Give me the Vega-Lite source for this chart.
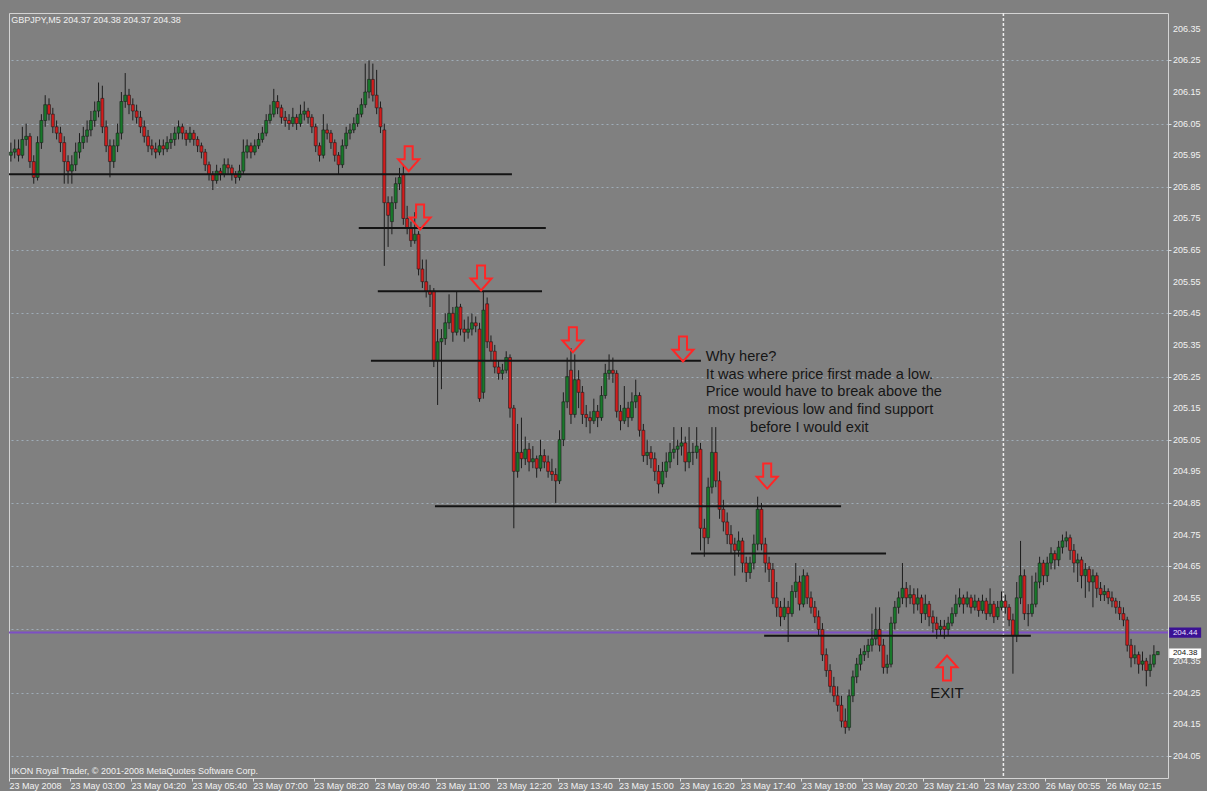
{
"$schema": "https://vega.github.io/schema/vega-lite/v6.json",
"width": 1159,
"height": 765,
"padding": {"left": 8, "top": 12, "right": 5, "bottom": 5},
"background": "#808080",
"config": {"view": {"fill": "#808080", "stroke": "#d4d4d4", "strokeWidth": 1}, "font": "Liberation Sans", "axis": {"labelOverlap": false}, "scale": {"continuousPadding": 0}},
"datasets": {
"candles": [
{"i":0,"o":205.95,"h":205.99,"l":205.93,"c":205.96},{"i":1,"o":205.96,"h":206.00,"l":205.94,"c":205.97},{"i":2,"o":205.97,"h":206.00,"l":205.93,"c":205.95},{"i":3,"o":205.95,"h":206.04,"l":205.94,"c":206.00},{"i":4,"o":206.00,"h":206.05,"l":205.98,"c":206.01},
{"i":5,"o":206.01,"h":206.02,"l":205.91,"c":205.93},{"i":6,"o":205.93,"h":205.95,"l":205.86,"c":205.88},{"i":7,"o":205.88,"h":206.01,"l":205.87,"c":205.99},{"i":8,"o":205.99,"h":206.08,"l":205.97,"c":206.06},{"i":9,"o":206.06,"h":206.14,"l":206.04,"c":206.11},
{"i":10,"o":206.11,"h":206.13,"l":206.06,"c":206.08},{"i":11,"o":206.08,"h":206.10,"l":206.02,"c":206.04},{"i":12,"o":206.04,"h":206.06,"l":206.00,"c":206.02},{"i":13,"o":206.02,"h":206.04,"l":205.96,"c":205.99},{"i":14,"o":205.99,"h":206.01,"l":205.86,"c":205.93},
{"i":15,"o":205.93,"h":205.95,"l":205.86,"c":205.90},{"i":16,"o":205.90,"h":205.95,"l":205.86,"c":205.92},{"i":17,"o":205.92,"h":205.99,"l":205.90,"c":205.96},{"i":18,"o":205.96,"h":206.02,"l":205.94,"c":205.99},{"i":19,"o":205.99,"h":206.04,"l":205.97,"c":206.01},
{"i":20,"o":206.01,"h":206.06,"l":205.99,"c":206.03},{"i":21,"o":206.03,"h":206.09,"l":206.01,"c":206.06},{"i":22,"o":206.06,"h":206.12,"l":206.04,"c":206.09},{"i":23,"o":206.09,"h":206.18,"l":206.07,"c":206.12},{"i":24,"o":206.13,"h":206.17,"l":206.02,"c":206.04},
{"i":25,"o":206.04,"h":206.06,"l":205.96,"c":205.98},{"i":26,"o":205.98,"h":206.00,"l":205.88,"c":205.93},{"i":27,"o":205.93,"h":206.00,"l":205.91,"c":205.98},{"i":28,"o":205.98,"h":206.05,"l":205.96,"c":206.02},{"i":29,"o":206.02,"h":206.15,"l":206.00,"c":206.12},
{"i":30,"o":206.12,"h":206.21,"l":206.10,"c":206.14},{"i":31,"o":206.14,"h":206.16,"l":206.08,"c":206.11},{"i":32,"o":206.11,"h":206.13,"l":206.06,"c":206.09},{"i":33,"o":206.09,"h":206.11,"l":206.05,"c":206.07},{"i":34,"o":206.07,"h":206.09,"l":206.02,"c":206.04},
{"i":35,"o":206.04,"h":206.06,"l":205.99,"c":206.01},{"i":36,"o":206.01,"h":206.03,"l":205.96,"c":205.98},{"i":37,"o":205.98,"h":206.00,"l":205.95,"c":205.97},{"i":38,"o":205.97,"h":205.99,"l":205.94,"c":205.96},{"i":39,"o":205.96,"h":206.00,"l":205.95,"c":205.98},
{"i":40,"o":205.98,"h":206.00,"l":205.95,"c":205.97},{"i":41,"o":205.97,"h":206.01,"l":205.96,"c":205.99},{"i":42,"o":205.99,"h":206.02,"l":205.97,"c":206.00},{"i":43,"o":206.00,"h":206.04,"l":205.98,"c":206.02},{"i":44,"o":206.02,"h":206.06,"l":206.00,"c":206.04},
{"i":45,"o":206.04,"h":206.05,"l":206.00,"c":206.02},{"i":46,"o":206.02,"h":206.03,"l":205.98,"c":206.00},{"i":47,"o":206.00,"h":206.04,"l":205.99,"c":206.02},{"i":48,"o":206.02,"h":206.03,"l":205.98,"c":206.00},{"i":49,"o":206.00,"h":206.01,"l":205.96,"c":205.98},
{"i":50,"o":205.98,"h":205.99,"l":205.94,"c":205.96},{"i":51,"o":205.96,"h":205.97,"l":205.90,"c":205.92},{"i":52,"o":205.92,"h":205.93,"l":205.87,"c":205.89},{"i":53,"o":205.89,"h":205.90,"l":205.84,"c":205.87},{"i":54,"o":205.87,"h":205.92,"l":205.86,"c":205.90},
{"i":55,"o":205.90,"h":205.91,"l":205.87,"c":205.89},{"i":56,"o":205.89,"h":205.94,"l":205.88,"c":205.92},{"i":57,"o":205.92,"h":205.94,"l":205.89,"c":205.91},{"i":58,"o":205.91,"h":205.92,"l":205.87,"c":205.89},{"i":59,"o":205.89,"h":205.90,"l":205.86,"c":205.88},
{"i":60,"o":205.88,"h":205.92,"l":205.87,"c":205.90},{"i":61,"o":205.90,"h":206.00,"l":205.89,"c":205.96},{"i":62,"o":205.96,"h":206.00,"l":205.94,"c":205.98},{"i":63,"o":205.98,"h":205.99,"l":205.94,"c":205.96},{"i":64,"o":205.96,"h":206.00,"l":205.95,"c":205.98},
{"i":65,"o":205.98,"h":206.02,"l":205.97,"c":206.00},{"i":66,"o":206.00,"h":206.04,"l":205.99,"c":206.02},{"i":67,"o":206.02,"h":206.08,"l":206.01,"c":206.06},{"i":68,"o":206.06,"h":206.11,"l":206.05,"c":206.08},{"i":69,"o":206.08,"h":206.16,"l":206.07,"c":206.12},
{"i":70,"o":206.12,"h":206.14,"l":206.08,"c":206.10},{"i":71,"o":206.10,"h":206.11,"l":206.05,"c":206.07},{"i":72,"o":206.07,"h":206.09,"l":206.04,"c":206.06},{"i":73,"o":206.06,"h":206.08,"l":206.03,"c":206.05},{"i":74,"o":206.05,"h":206.10,"l":206.04,"c":206.07},
{"i":75,"o":206.07,"h":206.08,"l":206.03,"c":206.05},{"i":76,"o":206.05,"h":206.11,"l":206.04,"c":206.08},{"i":77,"o":206.08,"h":206.12,"l":206.06,"c":206.09},{"i":78,"o":206.09,"h":206.10,"l":206.05,"c":206.07},{"i":79,"o":206.07,"h":206.08,"l":206.02,"c":206.04},
{"i":80,"o":206.04,"h":206.05,"l":205.96,"c":205.98},{"i":81,"o":205.98,"h":205.99,"l":205.93,"c":205.95},{"i":82,"o":205.95,"h":206.08,"l":205.94,"c":206.03},{"i":83,"o":206.03,"h":206.05,"l":206.00,"c":206.02},{"i":84,"o":206.02,"h":206.03,"l":205.97,"c":205.99},
{"i":85,"o":205.99,"h":206.00,"l":205.93,"c":205.95},{"i":86,"o":205.95,"h":205.96,"l":205.89,"c":205.92},{"i":87,"o":205.92,"h":206.00,"l":205.91,"c":205.98},{"i":88,"o":205.98,"h":206.04,"l":205.97,"c":206.02},{"i":89,"o":206.02,"h":206.05,"l":206.00,"c":206.03},
{"i":90,"o":206.03,"h":206.07,"l":206.02,"c":206.05},{"i":91,"o":206.05,"h":206.10,"l":206.04,"c":206.08},{"i":92,"o":206.08,"h":206.13,"l":206.07,"c":206.11},{"i":93,"o":206.11,"h":206.24,"l":206.10,"c":206.15},{"i":94,"o":206.15,"h":206.25,"l":206.13,"c":206.19},
{"i":95,"o":206.19,"h":206.24,"l":206.12,"c":206.14},{"i":96,"o":206.14,"h":206.22,"l":206.08,"c":206.10},{"i":97,"o":206.10,"h":206.12,"l":206.02,"c":206.04},{"i":98,"o":206.03,"h":206.05,"l":205.60,"c":205.80},{"i":99,"o":205.80,"h":205.82,"l":205.66,"c":205.76},
{"i":100,"o":205.74,"h":205.82,"l":205.70,"c":205.80},{"i":101,"o":205.80,"h":205.88,"l":205.78,"c":205.86},{"i":102,"o":205.86,"h":205.91,"l":205.84,"c":205.88},{"i":103,"o":205.89,"h":205.92,"l":205.73,"c":205.75},{"i":104,"o":205.75,"h":205.79,"l":205.70,"c":205.72},
{"i":105,"o":205.72,"h":205.74,"l":205.66,"c":205.68},{"i":106,"o":205.68,"h":205.77,"l":205.67,"c":205.70},{"i":107,"o":205.70,"h":205.71,"l":205.57,"c":205.59},{"i":108,"o":205.59,"h":205.62,"l":205.53,"c":205.55},{"i":109,"o":205.55,"h":205.62,"l":205.50,"c":205.52},
{"i":110,"o":205.52,"h":205.54,"l":205.47,"c":205.51},{"i":111,"o":205.52,"h":205.53,"l":205.28,"c":205.30},{"i":112,"o":205.30,"h":205.40,"l":205.16,"c":205.36},{"i":113,"o":205.36,"h":205.40,"l":205.21,"c":205.37},{"i":114,"o":205.37,"h":205.45,"l":205.35,"c":205.42},
{"i":115,"o":205.42,"h":205.51,"l":205.40,"c":205.45},{"i":116,"o":205.45,"h":205.47,"l":205.36,"c":205.39},{"i":117,"o":205.39,"h":205.52,"l":205.38,"c":205.47},{"i":118,"o":205.47,"h":205.48,"l":205.38,"c":205.40},{"i":119,"o":205.40,"h":205.43,"l":205.36,"c":205.39},
{"i":120,"o":205.39,"h":205.44,"l":205.37,"c":205.40},{"i":121,"o":205.40,"h":205.45,"l":205.38,"c":205.42},{"i":122,"o":205.42,"h":205.44,"l":205.39,"c":205.41},{"i":123,"o":205.40,"h":205.42,"l":205.17,"c":205.18},{"i":124,"o":205.20,"h":205.52,"l":205.18,"c":205.46},
{"i":125,"o":205.48,"h":205.50,"l":205.34,"c":205.36},{"i":126,"o":205.36,"h":205.38,"l":205.30,"c":205.33},{"i":127,"o":205.33,"h":205.35,"l":205.26,"c":205.28},{"i":128,"o":205.28,"h":205.30,"l":205.24,"c":205.26},{"i":129,"o":205.26,"h":205.29,"l":205.24,"c":205.27},
{"i":130,"o":205.27,"h":205.33,"l":205.26,"c":205.31},{"i":131,"o":205.31,"h":205.32,"l":205.12,"c":205.15},{"i":132,"o":205.15,"h":205.16,"l":204.77,"c":204.95},{"i":133,"o":204.95,"h":205.10,"l":204.93,"c":205.01},{"i":134,"o":205.01,"h":205.12,"l":204.96,"c":204.99},
{"i":135,"o":204.99,"h":205.06,"l":204.97,"c":205.02},{"i":136,"o":205.02,"h":205.04,"l":204.95,"c":204.98},{"i":137,"o":204.98,"h":205.03,"l":204.96,"c":204.99},{"i":138,"o":204.99,"h":205.00,"l":204.93,"c":204.96},{"i":139,"o":204.96,"h":205.05,"l":204.95,"c":205.00},
{"i":140,"o":205.00,"h":205.02,"l":204.96,"c":204.98},{"i":141,"o":204.98,"h":205.00,"l":204.93,"c":204.95},{"i":142,"o":204.95,"h":204.99,"l":204.92,"c":204.94},{"i":143,"o":204.94,"h":204.96,"l":204.85,"c":204.92},{"i":144,"o":204.92,"h":205.08,"l":204.91,"c":205.05},
{"i":145,"o":205.05,"h":205.20,"l":205.03,"c":205.17},{"i":146,"o":205.17,"h":205.31,"l":205.15,"c":205.25},{"i":147,"o":205.27,"h":205.34,"l":205.10,"c":205.13},{"i":148,"o":205.13,"h":205.32,"l":205.12,"c":205.24},{"i":149,"o":205.24,"h":205.27,"l":205.15,"c":205.20},
{"i":150,"o":205.20,"h":205.22,"l":205.10,"c":205.13},{"i":151,"o":205.13,"h":205.16,"l":205.09,"c":205.12},{"i":152,"o":205.12,"h":205.14,"l":205.07,"c":205.11},{"i":153,"o":205.11,"h":205.18,"l":205.10,"c":205.14},{"i":154,"o":205.14,"h":205.16,"l":205.09,"c":205.12},
{"i":155,"o":205.12,"h":205.22,"l":205.11,"c":205.19},{"i":156,"o":205.19,"h":205.29,"l":205.18,"c":205.26},{"i":157,"o":205.26,"h":205.32,"l":205.24,"c":205.27},{"i":158,"o":205.27,"h":205.31,"l":205.23,"c":205.26},{"i":159,"o":205.26,"h":205.27,"l":205.12,"c":205.14},
{"i":160,"o":205.14,"h":205.16,"l":205.08,"c":205.11},{"i":161,"o":205.11,"h":205.22,"l":205.10,"c":205.15},{"i":162,"o":205.15,"h":205.17,"l":205.09,"c":205.12},{"i":163,"o":205.12,"h":205.20,"l":205.11,"c":205.17},{"i":164,"o":205.17,"h":205.24,"l":205.15,"c":205.19},
{"i":165,"o":205.19,"h":205.20,"l":205.06,"c":205.08},{"i":166,"o":205.08,"h":205.10,"l":204.98,"c":205.00},{"i":167,"o":205.00,"h":205.05,"l":204.97,"c":205.01},{"i":168,"o":205.01,"h":205.03,"l":204.96,"c":204.99},{"i":169,"o":204.99,"h":205.01,"l":204.92,"c":204.95},
{"i":170,"o":204.95,"h":204.97,"l":204.88,"c":204.91},{"i":171,"o":204.91,"h":204.98,"l":204.90,"c":204.95},{"i":172,"o":204.95,"h":205.01,"l":204.93,"c":204.98},{"i":173,"o":204.98,"h":205.04,"l":204.96,"c":205.01},{"i":174,"o":205.01,"h":205.09,"l":204.99,"c":205.02},
{"i":175,"o":205.02,"h":205.05,"l":204.97,"c":205.03},{"i":176,"o":205.03,"h":205.09,"l":205.00,"c":205.04},{"i":177,"o":205.04,"h":205.06,"l":204.95,"c":204.98},{"i":178,"o":204.98,"h":205.09,"l":204.96,"c":205.01},{"i":179,"o":205.01,"h":205.04,"l":204.97,"c":205.01},
{"i":180,"o":205.01,"h":205.09,"l":204.99,"c":205.03},{"i":181,"o":205.02,"h":205.04,"l":204.70,"c":204.77},{"i":182,"o":204.77,"h":204.80,"l":204.68,"c":204.74},{"i":183,"o":204.74,"h":204.93,"l":204.72,"c":204.90},{"i":184,"o":204.90,"h":205.09,"l":204.88,"c":205.01},
{"i":185,"o":205.01,"h":205.09,"l":204.90,"c":204.92},{"i":186,"o":204.92,"h":204.95,"l":204.80,"c":204.83},{"i":187,"o":204.83,"h":204.86,"l":204.76,"c":204.79},{"i":188,"o":204.79,"h":204.82,"l":204.72,"c":204.75},{"i":189,"o":204.75,"h":204.78,"l":204.69,"c":204.72},
{"i":190,"o":204.72,"h":204.74,"l":204.62,"c":204.70},{"i":191,"o":204.70,"h":204.76,"l":204.68,"c":204.73},{"i":192,"o":204.73,"h":204.74,"l":204.63,"c":204.66},{"i":193,"o":204.66,"h":204.68,"l":204.60,"c":204.63},{"i":194,"o":204.63,"h":204.68,"l":204.61,"c":204.66},
{"i":195,"o":204.66,"h":204.75,"l":204.64,"c":204.72},{"i":196,"o":204.72,"h":204.87,"l":204.70,"c":204.83},{"i":197,"o":204.83,"h":204.85,"l":204.70,"c":204.72},{"i":198,"o":204.72,"h":204.74,"l":204.63,"c":204.66},{"i":199,"o":204.66,"h":204.68,"l":204.60,"c":204.64},
{"i":200,"o":204.64,"h":204.66,"l":204.53,"c":204.55},{"i":201,"o":204.55,"h":204.60,"l":204.49,"c":204.52},{"i":202,"o":204.52,"h":204.54,"l":204.46,"c":204.49},{"i":203,"o":204.49,"h":204.55,"l":204.48,"c":204.52},{"i":204,"o":204.52,"h":204.54,"l":204.41,"c":204.50},
{"i":205,"o":204.50,"h":204.59,"l":204.49,"c":204.57},{"i":206,"o":204.57,"h":204.66,"l":204.55,"c":204.60},{"i":207,"o":204.60,"h":204.62,"l":204.51,"c":204.53},{"i":208,"o":204.53,"h":204.64,"l":204.52,"c":204.62},{"i":209,"o":204.62,"h":204.63,"l":204.53,"c":204.55},
{"i":210,"o":204.55,"h":204.57,"l":204.50,"c":204.52},{"i":211,"o":204.52,"h":204.54,"l":204.47,"c":204.49},{"i":212,"o":204.49,"h":204.51,"l":204.43,"c":204.45},{"i":213,"o":204.45,"h":204.47,"l":204.35,"c":204.37},{"i":214,"o":204.37,"h":204.39,"l":204.30,"c":204.32},
{"i":215,"o":204.32,"h":204.34,"l":204.25,"c":204.27},{"i":216,"o":204.27,"h":204.30,"l":204.22,"c":204.24},{"i":217,"o":204.24,"h":204.27,"l":204.19,"c":204.21},{"i":218,"o":204.21,"h":204.24,"l":204.14,"c":204.16},{"i":219,"o":204.16,"h":204.20,"l":204.12,"c":204.14},
{"i":220,"o":204.14,"h":204.26,"l":204.13,"c":204.24},{"i":221,"o":204.24,"h":204.32,"l":204.22,"c":204.30},{"i":222,"o":204.30,"h":204.36,"l":204.28,"c":204.34},{"i":223,"o":204.34,"h":204.39,"l":204.32,"c":204.37},{"i":224,"o":204.37,"h":204.40,"l":204.35,"c":204.38},
{"i":225,"o":204.38,"h":204.42,"l":204.36,"c":204.40},{"i":226,"o":204.40,"h":204.50,"l":204.38,"c":204.42},{"i":227,"o":204.42,"h":204.52,"l":204.40,"c":204.45},{"i":228,"o":204.45,"h":204.52,"l":204.38,"c":204.40},{"i":229,"o":204.40,"h":204.42,"l":204.31,"c":204.33},
{"i":230,"o":204.33,"h":204.37,"l":204.31,"c":204.34},{"i":231,"o":204.34,"h":204.49,"l":204.33,"c":204.47},{"i":232,"o":204.47,"h":204.54,"l":204.45,"c":204.52},{"i":233,"o":204.52,"h":204.57,"l":204.50,"c":204.55},{"i":234,"o":204.55,"h":204.66,"l":204.53,"c":204.58},
{"i":235,"o":204.58,"h":204.60,"l":204.52,"c":204.55},{"i":236,"o":204.55,"h":204.59,"l":204.53,"c":204.56},{"i":237,"o":204.56,"h":204.58,"l":204.50,"c":204.53},{"i":238,"o":204.53,"h":204.58,"l":204.51,"c":204.55},{"i":239,"o":204.55,"h":204.56,"l":204.47,"c":204.50},
{"i":240,"o":204.50,"h":204.56,"l":204.48,"c":204.53},{"i":241,"o":204.53,"h":204.54,"l":204.46,"c":204.49},{"i":242,"o":204.49,"h":204.51,"l":204.44,"c":204.47},{"i":243,"o":204.47,"h":204.49,"l":204.42,"c":204.45},{"i":244,"o":204.45,"h":204.48,"l":204.43,"c":204.46},
{"i":245,"o":204.46,"h":204.48,"l":204.42,"c":204.45},{"i":246,"o":204.45,"h":204.49,"l":204.43,"c":204.47},{"i":247,"o":204.47,"h":204.52,"l":204.46,"c":204.50},{"i":248,"o":204.50,"h":204.56,"l":204.49,"c":204.53},{"i":249,"o":204.53,"h":204.58,"l":204.52,"c":204.55},
{"i":250,"o":204.55,"h":204.56,"l":204.50,"c":204.53},{"i":251,"o":204.53,"h":204.57,"l":204.52,"c":204.55},{"i":252,"o":204.55,"h":204.56,"l":204.50,"c":204.52},{"i":253,"o":204.52,"h":204.56,"l":204.51,"c":204.54},{"i":254,"o":204.54,"h":204.55,"l":204.49,"c":204.51},
{"i":255,"o":204.51,"h":204.56,"l":204.50,"c":204.54},{"i":256,"o":204.54,"h":204.55,"l":204.48,"c":204.50},{"i":257,"o":204.50,"h":204.58,"l":204.49,"c":204.53},{"i":258,"o":204.53,"h":204.54,"l":204.47,"c":204.49},{"i":259,"o":204.49,"h":204.54,"l":204.48,"c":204.52},
{"i":260,"o":204.52,"h":204.57,"l":204.51,"c":204.54},{"i":261,"o":204.54,"h":204.56,"l":204.50,"c":204.52},{"i":262,"o":204.52,"h":204.53,"l":204.46,"c":204.48},{"i":263,"o":204.48,"h":204.50,"l":204.31,"c":204.43},{"i":264,"o":204.43,"h":204.60,"l":204.41,"c":204.55},
{"i":265,"o":204.55,"h":204.73,"l":204.53,"c":204.62},{"i":266,"o":204.62,"h":204.64,"l":204.48,"c":204.50},{"i":267,"o":204.50,"h":204.53,"l":204.46,"c":204.50},{"i":268,"o":204.50,"h":204.62,"l":204.49,"c":204.53},{"i":269,"o":204.53,"h":204.63,"l":204.52,"c":204.60},
{"i":270,"o":204.60,"h":204.68,"l":204.58,"c":204.66},{"i":271,"o":204.66,"h":204.67,"l":204.59,"c":204.62},{"i":272,"o":204.62,"h":204.68,"l":204.60,"c":204.66},{"i":273,"o":204.66,"h":204.71,"l":204.64,"c":204.69},{"i":274,"o":204.69,"h":204.70,"l":204.64,"c":204.67},
{"i":275,"o":204.67,"h":204.73,"l":204.65,"c":204.71},{"i":276,"o":204.71,"h":204.75,"l":204.69,"c":204.73},{"i":277,"o":204.73,"h":204.76,"l":204.71,"c":204.74},{"i":278,"o":204.74,"h":204.75,"l":204.67,"c":204.70},{"i":279,"o":204.70,"h":204.72,"l":204.63,"c":204.66},
{"i":280,"o":204.66,"h":204.69,"l":204.60,"c":204.67},{"i":281,"o":204.67,"h":204.68,"l":204.58,"c":204.62},{"i":282,"o":204.62,"h":204.66,"l":204.55,"c":204.64},{"i":283,"o":204.64,"h":204.65,"l":204.57,"c":204.60},{"i":284,"o":204.60,"h":204.64,"l":204.52,"c":204.62},
{"i":285,"o":204.62,"h":204.63,"l":204.55,"c":204.58},{"i":286,"o":204.58,"h":204.60,"l":204.54,"c":204.56},{"i":287,"o":204.56,"h":204.59,"l":204.54,"c":204.57},{"i":288,"o":204.57,"h":204.58,"l":204.53,"c":204.55},{"i":289,"o":204.55,"h":204.57,"l":204.52,"c":204.54},
{"i":290,"o":204.54,"h":204.55,"l":204.50,"c":204.52},{"i":291,"o":204.52,"h":204.54,"l":204.48,"c":204.50},{"i":292,"o":204.50,"h":204.52,"l":204.46,"c":204.48},{"i":293,"o":204.48,"h":204.49,"l":204.38,"c":204.40},{"i":294,"o":204.40,"h":204.42,"l":204.33,"c":204.36},
{"i":295,"o":204.36,"h":204.40,"l":204.34,"c":204.37},{"i":296,"o":204.37,"h":204.38,"l":204.31,"c":204.34},{"i":297,"o":204.34,"h":204.38,"l":204.32,"c":204.35},{"i":298,"o":204.35,"h":204.36,"l":204.27,"c":204.32},{"i":299,"o":204.32,"h":204.37,"l":204.30,"c":204.34},
{"i":300,"o":204.34,"h":204.40,"l":204.33,"c":204.37},{"i":301,"o":204.37,"h":204.38,"l":204.37,"c":204.38}
],
"lines": [
{"x1":-0.5,"x2":131.5,"y":205.89},
{"x1":91.3,"x2":140.4,"y":205.72},
{"x1":96.3,"x2":139.4,"y":205.52},
{"x1":94.5,"x2":181.1,"y":205.30},
{"x1":111.3,"x2":217.9,"y":204.84},
{"x1":178.5,"x2":229.7,"y":204.69},
{"x1":197.7,"x2":267.7,"y":204.43}
],
"arrows": [
{"x":104.4,"y":205.939,"dir":"down"},
{"x":107.4,"y":205.755,"dir":"down"},
{"x":123.4,"y":205.562,"dir":"down"},
{"x":147.5,"y":205.366,"dir":"down"},
{"x":176.4,"y":205.337,"dir":"down"},
{"x":198.5,"y":204.935,"dir":"down"},
{"x":245.7,"y":204.328,"dir":"up"}
],
"notes": [
{"x":182.4,"y":205.312,"t":"Why here?"},
{"x":182.4,"y":205.255,"t":"It was where price first made a low."},
{"x":182.4,"y":205.201,"t":"Price would have to break above the"},
{"x":182.9,"y":205.144,"t":"most previous low and find support"},
{"x":194.0,"y":205.087,"t":"before I would exit"}
],
"exit": [{"x":245.7,"y":204.249,"t":"EXIT"}],
"info": [
{"x":0.1,"y":206.378,"t":"GBPJPY,M5  204.37 204.38 204.37 204.38"},
{"x":0.1,"y":204.002,"t":"IKON Royal Trader, © 2001-2008 MetaQuotes Software Corp."}
],
"ylabels": [
{"v":204.05},{"v":204.15},{"v":204.25},{"v":204.35},{"v":204.55},{"v":204.65},{"v":204.75},{"v":204.85},{"v":204.95},{"v":205.05},{"v":205.15},{"v":205.25},
{"v":205.35},{"v":205.45},{"v":205.55},{"v":205.65},{"v":205.75},{"v":205.85},{"v":205.95},{"v":206.05},{"v":206.15},{"v":206.25},{"v":206.35}
],
"weekend": [{"x":260.5}],
"hline": [{"y":204.44}],
"boxes": [
{"x1":304.0,"x2":312.4,"y1":204.456,"y2":204.424,"xm":308.2,"ym":204.44,"t":"204.44","k":"line"},
{"x1":304.0,"x2":312.4,"y1":204.39,"y2":204.36,"xm":308.2,"ym":204.375,"t":"204.38","k":"bid"}
]
},
"layer": [
{
"data": {"name": "weekend"},
"mark": {"type": "rule", "color": "#eeeeee", "strokeWidth": 1.5, "strokeDash": [3, 2]},
"encoding": {
"x": {"field": "x", "type": "quantitative", "scale": {"domain": [-0.5, 303.7], "nice": false, "zero": false, "padding": 0}, "title": null,
"axis": {"orient": "bottom", "values": [-0.5,7.5,15.5,23.5,31.5,39.5,47.5,55.5,63.5,71.5,79.5,87.5,95.5,103.5,111.5,119.5,127.5,135.5,143.5,151.5,159.5,167.5,175.5,183.5,191.5,199.5,207.5,215.5,223.5,231.5,239.5,247.5,255.5,263.5,271.5,279.5,287.5,295.5],
"labelExpr": "(datum.value+0.5)%16==0 ? ['23 May 2008','23 May 03:00','23 May 04:20','23 May 05:40','23 May 07:00','23 May 08:20','23 May 09:40','23 May 11:00','23 May 12:20','23 May 13:40','23 May 15:00','23 May 16:20','23 May 17:40','23 May 19:00','23 May 20:20','23 May 21:40','23 May 23:00','26 May 00:55','26 May 02:15'][(datum.value+0.5)/16] : ''",
"labelAlign": "left", "labelFontSize": 9, "labelColor": "#f2f2f2", "labelPadding": 0, "labelOverlap": false, "labelBound": false, "labelFlush": false,
"domain": false, "tickSize": 3, "tickColor": "#e0e0e0",
"tickOpacity": {"condition": {"test": "(datum.value+0.5)%16==0", "value": 1}, "value": 0},
"grid": true, "gridColor": "#a9bccb", "gridDash": [2, 3],
"gridOpacity": {"condition": {"test": "(datum.value+0.5)%16==8", "value": 0.75}, "value": 0}}}
}
},
{
"data": {"name": "hline"},
"mark": {"type": "rule", "color": "#7d4fc4", "strokeWidth": 2},
"encoding": {
"y": {"field": "y", "type": "quantitative", "scale": {"domain": [203.98, 206.40], "nice": false, "zero": false, "padding": 0}, "title": null,
"axis": {"orient": "right", "values": [204.05,204.15,204.25,204.35,204.45,204.55,204.65,204.75,204.85,204.95,205.05,205.15,205.25,205.35,205.45,205.55,205.65,205.75,205.85,205.95,206.05,206.15,206.25,206.35],
"labels": false, "domain": false, "tickSize": 3, "tickColor": "#e0e0e0",
"grid": true, "gridColor": "#a9bccb", "gridDash": [2, 3], "gridOpacity": 0.75}}
}
},
{
"data": {"name": "candles"},
"mark": {"type": "rule", "color": "#1c1c1c", "strokeWidth": 1},
"encoding": {
"x": {"field": "i", "type": "quantitative", "scale": {"domain": [-0.5, 303.7], "nice": false, "zero": false, "padding": 0}, "title": null},
"y": {"field": "l", "type": "quantitative", "scale": {"domain": [203.98, 206.40], "nice": false, "zero": false, "padding": 0}, "title": null},
"y2": {"field": "h"}
}
},
{
"data": {"name": "candles"},
"mark": {"type": "bar", "width": 3, "stroke": "#1c1c1c", "strokeWidth": 0.6},
"encoding": {
"x": {"field": "i", "type": "quantitative", "scale": {"domain": [-0.5, 303.7], "nice": false, "zero": false, "padding": 0}, "title": null},
"y": {"field": "o", "type": "quantitative", "scale": {"domain": [203.98, 206.40], "nice": false, "zero": false, "padding": 0}, "title": null},
"y2": {"field": "c"},
"fill": {"condition": {"test": "datum.c >= datum.o", "value": "#18782a"}, "value": "#d21c1c"}
}
},
{
"data": {"name": "lines"},
"mark": {"type": "rule", "color": "#141414", "strokeWidth": 2},
"encoding": {
"x": {"field": "x1", "type": "quantitative", "scale": {"domain": [-0.5, 303.7], "nice": false, "zero": false, "padding": 0}, "title": null},
"x2": {"field": "x2"},
"y": {"field": "y", "type": "quantitative", "scale": {"domain": [203.98, 206.40], "nice": false, "zero": false, "padding": 0}, "title": null}
}
},
{
"data": {"name": "arrows"},
"mark": {"type": "point", "filled": false, "stroke": "#ff2626", "strokeWidth": 2, "size": 625, "opacity": 1},
"encoding": {
"x": {"field": "x", "type": "quantitative", "scale": {"domain": [-0.5, 303.7], "nice": false, "zero": false, "padding": 0}, "title": null},
"y": {"field": "y", "type": "quantitative", "scale": {"domain": [203.98, 206.40], "nice": false, "zero": false, "padding": 0}, "title": null},
"shape": {"field": "dir", "type": "nominal", "legend": null, "scale": {"domain": ["down", "up"], "range": ["M-0.32,-1L0.32,-1L0.32,0.05L0.84,0.05L0,1L-0.84,0.05L-0.32,0.05Z", "M-0.32,1L0.32,1L0.32,-0.05L0.84,-0.05L0,-1L-0.84,-0.05L-0.32,-0.05Z"]}}
}
},
{
"data": {"name": "notes"},
"mark": {"type": "text", "align": "left", "baseline": "middle", "fontSize": 14.6, "color": "#161616", "font": "Liberation Sans"},
"encoding": {
"x": {"field": "x", "type": "quantitative", "scale": {"domain": [-0.5, 303.7], "nice": false, "zero": false, "padding": 0}, "title": null},
"y": {"field": "y", "type": "quantitative", "scale": {"domain": [203.98, 206.40], "nice": false, "zero": false, "padding": 0}, "title": null},
"text": {"field": "t"}
}
},
{
"data": {"name": "exit"},
"mark": {"type": "text", "align": "center", "baseline": "middle", "fontSize": 15, "color": "#161616", "font": "Liberation Sans"},
"encoding": {
"x": {"field": "x", "type": "quantitative", "scale": {"domain": [-0.5, 303.7], "nice": false, "zero": false, "padding": 0}, "title": null},
"y": {"field": "y", "type": "quantitative", "scale": {"domain": [203.98, 206.40], "nice": false, "zero": false, "padding": 0}, "title": null},
"text": {"field": "t"}
}
},
{
"data": {"name": "info"},
"mark": {"type": "text", "align": "left", "baseline": "middle", "fontSize": 9, "color": "#f0f0f0", "font": "Liberation Sans"},
"encoding": {
"x": {"field": "x", "type": "quantitative", "scale": {"domain": [-0.5, 303.7], "nice": false, "zero": false, "padding": 0}, "title": null},
"y": {"field": "y", "type": "quantitative", "scale": {"domain": [203.98, 206.40], "nice": false, "zero": false, "padding": 0}, "title": null},
"text": {"field": "t"}
}
},
{
"data": {"name": "ylabels"},
"mark": {"type": "text", "align": "left", "baseline": "middle", "fontSize": 9, "color": "#f2f2f2", "font": "Liberation Sans"},
"encoding": {
"x": {"datum": 305.0, "type": "quantitative", "scale": {"domain": [-0.5, 303.7], "nice": false, "zero": false, "padding": 0}, "title": null},
"y": {"field": "v", "type": "quantitative", "scale": {"domain": [203.98, 206.40], "nice": false, "zero": false, "padding": 0}, "title": null},
"text": {"field": "v", "format": ".2f"}
}
},
{
"data": {"name": "boxes"},
"mark": {"type": "rect"},
"encoding": {
"x": {"field": "x1", "type": "quantitative", "scale": {"domain": [-0.5, 303.7], "nice": false, "zero": false, "padding": 0}, "title": null},
"x2": {"field": "x2"},
"y": {"field": "y1", "type": "quantitative", "scale": {"domain": [203.98, 206.40], "nice": false, "zero": false, "padding": 0}, "title": null},
"y2": {"field": "y2"},
"fill": {"condition": {"test": "datum.k == 'line'", "value": "#3b1294"}, "value": "#ffffff"}
}
},
{
"data": {"name": "boxes"},
"mark": {"type": "text", "align": "center", "baseline": "middle", "fontSize": 8, "font": "Liberation Sans"},
"encoding": {
"x": {"field": "xm", "type": "quantitative", "scale": {"domain": [-0.5, 303.7], "nice": false, "zero": false, "padding": 0}, "title": null},
"y": {"field": "ym", "type": "quantitative", "scale": {"domain": [203.98, 206.40], "nice": false, "zero": false, "padding": 0}, "title": null},
"text": {"field": "t"},
"color": {"condition": {"test": "datum.k == 'line'", "value": "#e8e0ff"}, "value": "#111111"}
}
}
]
}
